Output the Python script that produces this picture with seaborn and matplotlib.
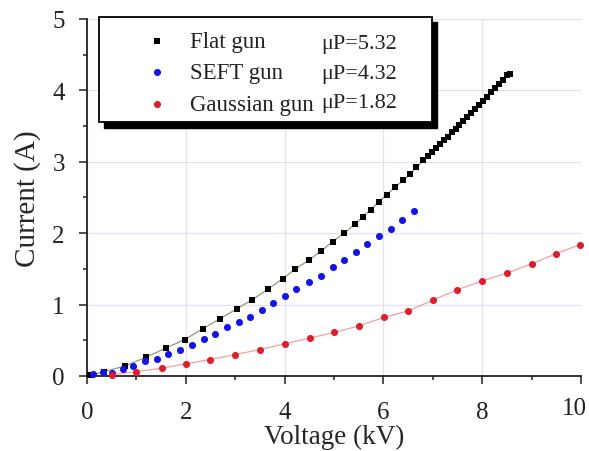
import matplotlib
matplotlib.use('Agg')
import matplotlib.pyplot as plt
import seaborn as sns
import numpy as np
from matplotlib.patches import Rectangle
from matplotlib.ticker import MultipleLocator

# values (voltage in kV, current in A)
flat_v = [0.06, 0.34, 0.77, 1.19, 1.59, 1.98, 2.34, 2.69, 3.03, 3.35, 3.67, 3.96,
          4.22, 4.49, 4.74, 4.97, 5.21, 5.43, 5.58, 5.74, 5.91, 6.07, 6.23, 6.40,
          6.54, 6.67, 6.81, 6.90, 6.98, 7.06, 7.14, 7.22, 7.30, 7.38, 7.46, 7.54,
          7.62, 7.70, 7.78, 7.86, 7.94, 8.02, 8.10, 8.18, 8.26, 8.34, 8.42, 8.50, 8.56]
flat_i = [0.01, 0.06, 0.14, 0.26, 0.39, 0.51, 0.66, 0.80, 0.94, 1.07, 1.22, 1.36,
          1.50, 1.62, 1.75, 1.88, 2.00, 2.13, 2.23, 2.33, 2.44, 2.54, 2.64, 2.74,
          2.83, 2.92, 3.02, 3.08, 3.14, 3.19, 3.25, 3.30, 3.35, 3.41, 3.46, 3.52,
          3.57, 3.63, 3.68, 3.74, 3.80, 3.85, 3.91, 3.97, 4.03, 4.09, 4.15, 4.21, 4.23]

seft_v = [0.13, 0.33, 0.50, 0.73, 0.94, 1.17, 1.41, 1.64, 1.88, 2.12, 2.36, 2.59,
          2.83, 3.07, 3.30, 3.54, 3.77, 4.01, 4.24, 4.49, 4.73, 4.97, 5.21, 5.45,
          5.67, 5.91, 6.15, 6.38, 6.62]
seft_i = [0.03, 0.06, 0.04, 0.10, 0.14, 0.21, 0.24, 0.31, 0.37, 0.44, 0.52, 0.59,
          0.68, 0.76, 0.83, 0.92, 1.02, 1.12, 1.22, 1.31, 1.40, 1.52, 1.62, 1.74,
          1.85, 1.96, 2.06, 2.18, 2.31]

gauss_v = [0.50, 1.00, 1.51, 2.00, 2.50, 3.00, 3.50, 4.00, 4.51, 5.00, 5.50, 6.01,
           6.50, 7.00, 7.50, 8.00, 8.50, 9.00, 9.49, 9.98]
gauss_i = [0.02, 0.06, 0.11, 0.17, 0.23, 0.30, 0.37, 0.45, 0.53, 0.61, 0.70, 0.82,
           0.91, 1.06, 1.21, 1.33, 1.44, 1.57, 1.71, 1.84]

x_ticks = [0, 2, 4, 6, 8, 10]
x_ticklabels = ['0', '2', '4', '6', '8', '']   # "10" is placed by hand below
labels = ['Flat gun', 'SEFT gun', 'Gaussian gun']
perveance = ['μP=5.32', 'μP=4.32', 'μP=1.82']

sns.set_theme(style='whitegrid')
plt.rcParams['font.family'] = ['Liberation Serif', 'DejaVu Serif']
plt.rcParams['text.color'] = '#222222'
plt.rcParams['xtick.labelcolor'] = '#222222'
plt.rcParams['ytick.labelcolor'] = '#222222'

fig, ax = plt.subplots(figsize=(5.89, 4.52), dpi=100)
fig.subplots_adjust(left=0.1477, right=0.9864, bottom=0.166, top=0.956)

# thin fit-like lines under the points
sns.lineplot(x=flat_v, y=flat_i, color='#8e9a78', lw=0.9, ax=ax, legend=False,
             sort=False, estimator=None, zorder=2)
sns.lineplot(x=gauss_v, y=gauss_i, color='#f4a0a0', lw=0.9, ax=ax, legend=False,
             sort=False, estimator=None, zorder=2)

sns.scatterplot(x=flat_v, y=flat_i, marker='s', s=20, color='black', linewidth=0,
                label=labels[0], ax=ax, clip_on=False, zorder=3)
sns.scatterplot(x=seft_v, y=seft_i, marker='o', s=26, color='#1414e6', linewidth=0,
                label=labels[1], ax=ax, clip_on=False, zorder=3)
sns.scatterplot(x=gauss_v, y=gauss_i, marker='o', s=26, color='#dc1f2a', linewidth=0,
                label=labels[2], ax=ax, clip_on=False, zorder=3)

ax.set_xlim(0, 10)
ax.set_ylim(0, 5)
ax.set_xticks(x_ticks, x_ticklabels)
ax.xaxis.set_minor_locator(MultipleLocator(1))
ax.yaxis.set_major_locator(MultipleLocator(1))
ax.yaxis.set_minor_locator(MultipleLocator(0.5))
ax.grid(True, which='major', color='#e2e2f2', lw=0.9)
ax.grid(False, which='minor')

for side in ['top', 'right']:
    ax.spines[side].set_visible(False)
for side in ['left', 'bottom']:
    ax.spines[side].set_color('#222222')
    ax.spines[side].set_linewidth(1.3)

ax.tick_params(which='both', direction='out', bottom=True, left=True,
               color='#222222', width=1.1)
ax.tick_params(which='major', length=6, labelsize=18)
ax.tick_params(axis='x', which='major', pad=12)
ax.tick_params(axis='y', which='major', pad=10)
ax.tick_params(which='minor', length=3)

# last x tick label, nudged left so it stays inside the picture
ax.annotate(str(x_ticks[-1]), xy=(1, 0), xycoords='axes fraction',
            xytext=(-5, -15), textcoords='offset points', ha='center', va='top',
            fontsize=18, color='#222222', annotation_clip=False)

ax.set_xlabel('Voltage (kV)', fontsize=19.5, labelpad=1)
ax.set_ylabel('Current (A)', fontsize=21, labelpad=8)

# legend box with a solid black drop shadow
shadow = Rectangle((0.0345, 0.694), 0.6735, 0.296, transform=ax.transAxes,
                   facecolor='black', edgecolor='black', clip_on=False, zorder=5)
box = Rectangle((0.0243, 0.711), 0.6737, 0.295, transform=ax.transAxes,
                facecolor='white', edgecolor='black', lw=1.3, clip_on=False, zorder=6)
ax.add_patch(shadow)
ax.add_patch(box)

handles, labs = ax.get_legend_handles_labels()
leg = ax.legend(handles, labs, loc='upper left', bbox_to_anchor=(0.1194, 0.966),
                frameon=False, fontsize=16.5, handlelength=0.95, handletextpad=0.95,
                borderpad=0, borderaxespad=0, labelspacing=0.45, markerscale=1.0)
leg.set_zorder(7)

for y, txt in zip([0.932, 0.848, 0.767], perveance):
    ax.text(0.6275, y, txt, transform=ax.transAxes, ha='right', va='center',
            fontsize=16, zorder=8)

fig.savefig('out.png', dpi=100)
